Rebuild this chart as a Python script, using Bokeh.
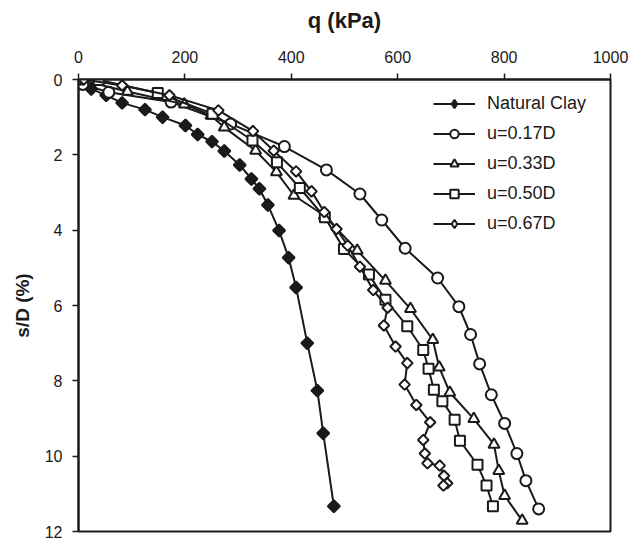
import numpy as np
from bokeh.plotting import figure
from bokeh.models import Range1d, Legend, LegendItem, FixedTicker
from bokeh.embed import file_html
from bokeh.resources import INLINE

# ---- data (q in kPa, s/D in %) ----
natural_q = [0, 24, 52, 82, 125, 158, 201, 224, 251, 274, 303, 325, 340, 356, 377, 395, 409, 430, 449, 460, 480]
natural_s = [0, 0.25, 0.42, 0.62, 0.80, 1.0, 1.22, 1.46, 1.65, 1.90, 2.27, 2.64, 2.90, 3.33, 4.01, 4.73, 5.52, 7.0, 8.26, 9.39, 11.33]

u017_q = [0, 8, 57, 174, 286, 387, 466, 529, 570, 614, 675, 715, 737, 754, 776, 801, 824, 841, 865]
u017_s = [0, 0.13, 0.34, 0.60, 1.18, 1.78, 2.40, 3.04, 3.73, 4.48, 5.27, 6.03, 6.77, 7.55, 8.37, 9.13, 9.93, 10.65, 11.40]

u033_q = [0, 92, 199, 249, 274, 333, 372, 405, 462, 524, 577, 624, 666, 678, 698, 743, 781, 790, 801, 834]
u033_s = [0, 0.32, 0.66, 0.96, 1.27, 1.89, 2.46, 3.08, 3.61, 4.54, 5.34, 6.09, 6.91, 7.64, 8.31, 9.01, 9.69, 10.39, 11.05, 11.71]

u050_q = [0, 38, 149, 252, 327, 373, 416, 463, 499, 546, 577, 618, 648, 658, 668, 684, 707, 717, 750, 767, 779]
u050_s = [0, 0.01, 0.36, 0.91, 1.62, 2.20, 2.88, 3.66, 4.50, 5.18, 5.85, 6.55, 7.18, 7.68, 8.24, 8.54, 9.03, 9.59, 10.23, 10.78, 11.33]

u067_q = [0, 10, 82, 171, 263, 328, 367, 409, 438, 462, 485, 506, 529, 554, 581, 574, 596, 618, 613, 635, 661, 648, 651, 656, 679, 687, 693, 686]
u067_s = [0, 0.0, 0.16, 0.42, 0.82, 1.37, 1.89, 2.44, 2.97, 3.52, 3.97, 4.41, 4.97, 5.59, 6.06, 6.53, 7.09, 7.53, 8.10, 8.64, 9.10, 9.57, 9.93, 10.19, 10.25, 10.52, 10.72, 10.78]

x_ticks = [0, 200, 400, 600, 800, 1000]
y_ticks = [0, 2, 4, 6, 8, 10, 12]

INK = "#1a1a1a"
FONT = "Liberation Sans"

p = figure(width=628, height=539, output_backend="svg", toolbar_location=None,
           x_axis_location="above",
           x_range=Range1d(0, 1000), y_range=Range1d(12, 0),
           min_border_left=78, min_border_top=79, min_border_right=18, min_border_bottom=8)

p.xgrid.visible = False
p.ygrid.visible = False
p.outline_line_color = INK
p.outline_line_width = 2
p.outline_line_alpha = 1.0
p.background_fill_color = "white"
p.border_fill_color = "white"

for ax in (p.xaxis[0], p.yaxis[0]):
    ax.axis_line_color = INK
    ax.axis_line_width = 2
    ax.major_tick_line_color = INK
    ax.major_tick_line_width = 1.5
    ax.major_tick_out = 6
    ax.major_tick_in = 0
    ax.minor_tick_line_color = None
    ax.major_label_text_font = FONT
    ax.major_label_text_font_size = "16px"
    ax.major_label_text_color = INK
    ax.axis_label_text_font = FONT
    ax.axis_label_text_font_style = "bold"
    ax.axis_label_text_color = INK

p.xaxis[0].axis_label_text_font_size = "22px"
p.yaxis[0].axis_label_text_font_size = "19px"
p.xaxis[0].ticker = FixedTicker(ticks=x_ticks)
p.yaxis[0].ticker = FixedTicker(ticks=y_ticks)
p.xaxis[0].axis_label = "q (kPa)"
p.yaxis[0].axis_label = "s/D (%)"
p.xaxis[0].major_label_standoff = 11
p.xaxis[0].axis_label_standoff = 15
p.yaxis[0].major_label_standoff = 10
p.yaxis[0].axis_label_standoff = 9

# (label, q, s, plot marker, angle, size, fill, legend marker, legend size)
series = [
    ("Natural Clay", natural_q, natural_s, "square", np.pi / 4, 8.5, INK, "diamond", 13),
    ("u=0.17D", u017_q, u017_s, "circle", 0.0, 11, "white", "circle", 11),
    ("u=0.33D", u033_q, u033_s, "triangle", 0.0, 11, "white", "triangle", 11),
    ("u=0.50D", u050_q, u050_s, "square", 0.0, 10, "white", "square", 10),
    ("u=0.67D", u067_q, u067_s, "square", np.pi / 4, 7.5, "white", "diamond", 12),
]

nan = [float("nan")]
items = []
for label, xs, ys, marker, ang, size, fill, lmarker, lsize in series:
    p.line(xs, ys, line_color=INK, line_width=2)
    p.scatter(xs, ys, marker=marker, angle=ang, size=size,
              fill_color=fill, line_color=INK, line_width=2)
    # legend-only sample renderers (no visible data) so the legend shows proper diamonds
    lln = p.line(nan, nan, line_color=INK, line_width=2)
    lsc = p.scatter(nan, nan, marker=lmarker, size=lsize,
                    fill_color=fill, line_color=INK, line_width=2)
    items.append(LegendItem(label=label, renderers=[lln, lsc]))

legend = Legend(items=items, location=(355, 297),
                glyph_width=42, glyph_height=21, label_height=21,
                spacing=9, padding=0, margin=0, label_standoff=12,
                label_text_font=FONT, label_text_font_size="18px",
                label_text_color=INK,
                border_line_color=None, background_fill_alpha=0)
p.add_layout(legend, "center")

open("out.html", "w").write(file_html(p, INLINE))
